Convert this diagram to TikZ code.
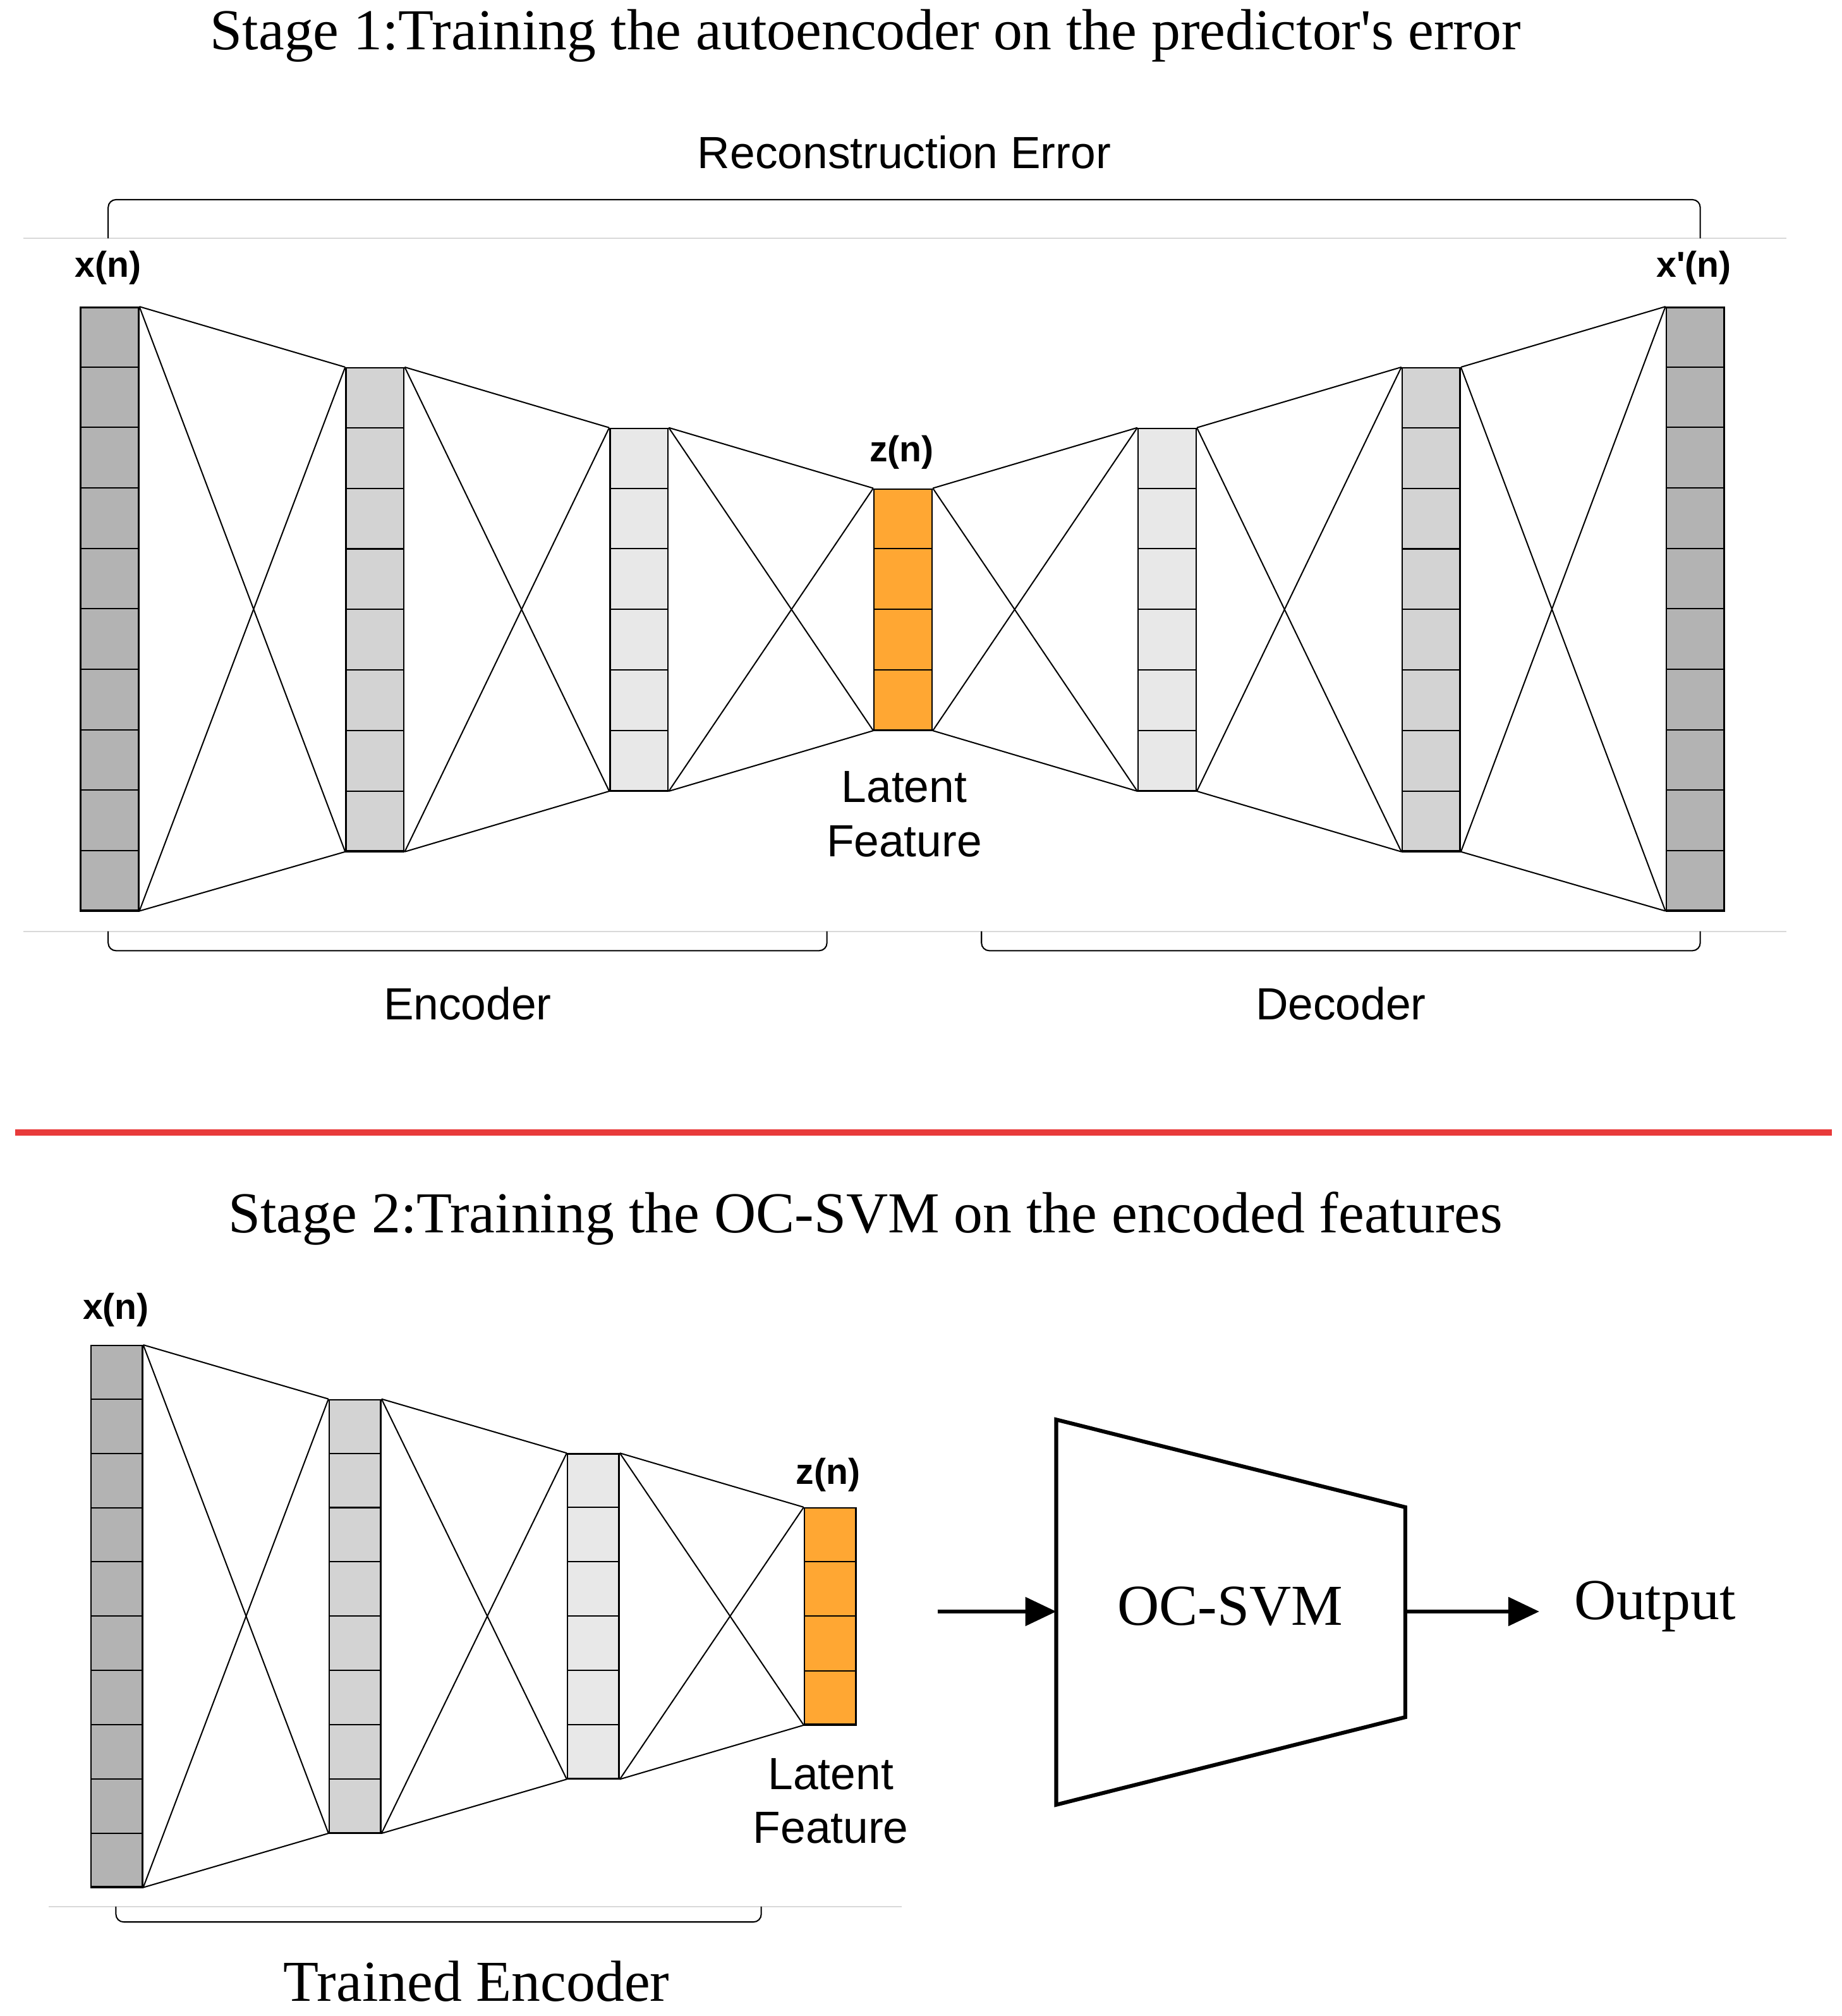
\documentclass[tikz,border=0pt]{standalone}
\usepackage{fontspec}
\setmainfont{Liberation Serif}
\newfontfamily\arialfont{Liberation Sans}
\usetikzlibrary{calc,arrows.meta}
\definecolor{dark}{HTML}{B3B3B3}
\definecolor{mid}{HTML}{D3D3D3}
\definecolor{light}{HTML}{E8E8E8}
\definecolor{latent}{HTML}{FFA733}
\definecolor{redline}{HTML}{E83A3A}
\tikzset{
  layer/.style={draw, line width=1.2pt, inner sep=0pt, anchor=north west},
  conn/.style={line width=1pt},
  brace/.style={line width=1pt, rounded corners=6pt},
  rule/.style={draw=black!15, line width=0.8pt},
  sans/.style={font=\arialfont\fontsize{35}{42}\selectfont},
  tag/.style={font=\arialfont\bfseries\fontsize{28}{32}\selectfont},
  title/.style={font=\fontsize{45}{52}\selectfont},
}
% \layer{name}{x}{ytop}{width}{height}{cells}{fill}
\newcommand{\layer}[7]{%
  \node[layer, fill=#7, minimum width=#4pt, minimum height=#5pt] (#1) at (#2,#3) {};
  \foreach \i in {1,...,#6}
    \draw[line width=1pt] ($(#1.north west)!\i/#6!(#1.south west)$) -- ($(#1.north east)!\i/#6!(#1.south east)$);
}
% \link{a}{b}
\newcommand{\link}[2]{%
  \draw[conn] (#1.north east) -- (#2.north west);
  \draw[conn] (#1.south east) -- (#2.south west);
  \draw[conn] (#1.north east) -- (#2.south west);
  \draw[conn] (#1.south east) -- (#2.north west);
}
\begin{document}
\begin{tikzpicture}[x=1pt,y=-1pt]
\useasboundingbox (0,0) rectangle (1430,1565);

% stage 1
\node[title] (t1) at (672,28) {Stage 1:Training the autoencoder on the predictor\textquotesingle s error};
\node[sans] (rec) at (702,118) {Reconstruction Error};
\draw[rule] (18,185) -- (1387,185);
\draw[rule] (18,723) -- (1387,723);
\draw[brace] (84,185) -- (84,155) -- (1320,155) -- (1320,185);
\draw[brace] (84,723) -- (84,738) -- (642,738) -- (642,723);
\draw[brace] (762,723) -- (762,738) -- (1320,738) -- (1320,723);
\node[sans] (enc) at (363,779) {Encoder};
\node[sans] (dec) at (1041,779) {Decoder};

\layer{a1}{62}{238}{45}{468}{10}{dark}
\layer{a2}{268}{285}{45}{375}{8}{mid}
\layer{a3}{473}{332}{45}{281}{6}{light}
\layer{a4}{678}{379}{45}{187}{4}{latent}
\layer{a5}{883}{332}{45}{281}{6}{light}
\layer{a6}{1088}{285}{45}{375}{8}{mid}
\layer{a7}{1293}{238}{45}{468}{10}{dark}
\link{a1}{a2}
\link{a2}{a3}
\link{a3}{a4}
\link{a4}{a5}
\link{a5}{a6}
\link{a6}{a7}
\node[tag] (xin) at (84,208) {x(n)};
\node[tag] (zin) at (700,351) {z(n)};
\node[tag] (xout) at (1315,208) {x'(n)};
\node[sans, align=center] (lat1) at (702,632) {Latent\\Feature};

\draw[redline, line width=5pt] (12,879) -- (1422,879);

% stage 2
\node[title] (t2) at (672,946) {Stage 2:Training the OC-SVM on the encoded features};
\layer{b1}{70}{1044}{40}{420}{10}{dark}
\layer{b2}{255}{1086}{40}{336}{8}{mid}
\layer{b3}{440}{1128}{40}{252}{6}{light}
\layer{b4}{624}{1170}{40}{168}{4}{latent}
\link{b1}{b2}
\link{b2}{b3}
\link{b3}{b4}
\node[tag] (xb) at (90,1017) {x(n)};
\node[tag] (zb) at (643,1145) {z(n)};
\node[sans, align=center] (lat2) at (645,1398) {Latent\\Feature};
\draw[rule] (38,1480) -- (700,1480);
\draw[brace] (90,1480) -- (90,1492) -- (591,1492) -- (591,1480);
\node[title] (tenc) at (370,1538) {Trained Encoder};

\coordinate (ain) at (728,1251);
\coordinate (aout) at (1195,1251);
\coordinate (s1) at (820,1102);
\coordinate (s2) at (1091,1170);
\coordinate (s3) at (1091,1333);
\coordinate (s4) at (820,1401);
\draw[line width=3pt, line join=miter] (s1) -- (s2) -- (s3) -- (s4) -- cycle;
\node[title] (svm) at (955,1247) {OC-SVM};
\node[title] (out) at (1285,1247) {Output};
\draw[line width=3pt, -{Triangle[length=24pt,width=22pt]}] (ain) -- (820,1251);
\draw[line width=3pt, -{Triangle[length=24pt,width=22pt]}] (1091,1251) -- (aout);
\end{tikzpicture}
\end{document}
